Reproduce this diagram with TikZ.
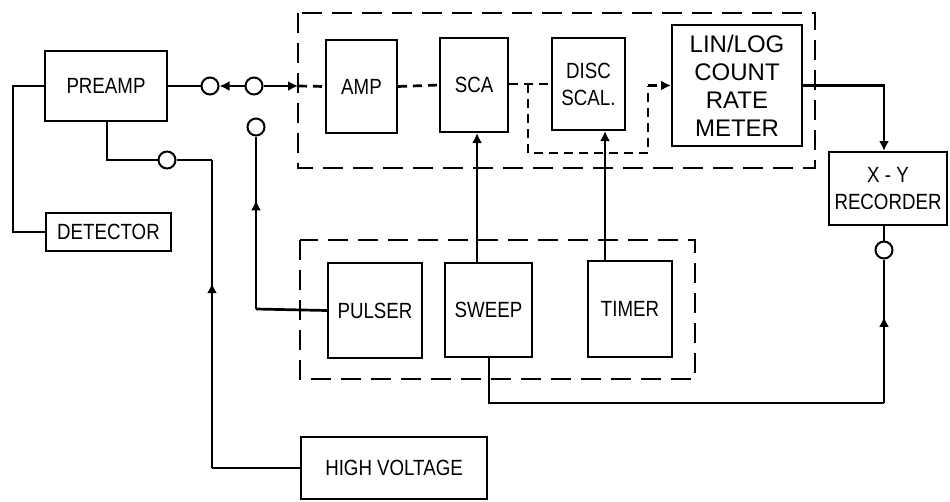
\documentclass[tikz,border=0pt]{standalone}
\usepackage{fontspec}
\setmainfont{Liberation Sans}
\newfontfamily\lbl[FakeStretch=0.85]{Liberation Sans}
\usetikzlibrary{arrows.meta,decorations.markings}
\begin{document}
\begin{tikzpicture}[x=1pt,y=-1pt,
  blk/.style={draw, line width=2pt, inner sep=0pt, align=center,
    font=\lbl\fontsize{22}{27}\selectfont},
  conn/.style={line width=2.7pt},
  arr/.style={conn, -{Latex[length=10pt,width=10pt]}},
  dsh/.style={line width=2.7pt, dash pattern=on 9pt off 6pt},
  dbox/.style={line width=2pt, dash pattern=on 20pt off 10pt},
  jack/.style={circle, draw, line width=2pt, fill=white, minimum size=17pt, inner sep=0pt},
  midarr/.style={conn, postaction={decorate}, decoration={markings,
    mark=at position #1 with {\arrow{Latex[length=10pt,width=10pt]}}}}]
\useasboundingbox (0,0) rectangle (950,501);

% dashed enclosures
\draw[dbox] (298,13) rectangle (815,168);
\draw[dbox] (300,240) rectangle (695,379);

% blocks
\node[blk, minimum width=122pt, minimum height=70pt] (preamp) at (106,86) {PREAMP};
\node[blk, minimum width=125pt, minimum height=38pt] (det) at (108.5,232) {DETECTOR};
\node[blk, minimum width=71pt, minimum height=93pt] (amp) at (361.5,86.5) {AMP};
\node[blk, minimum width=68pt, minimum height=94pt] (sca) at (474,85) {SCA};
\node[blk, minimum width=73pt, minimum height=92pt] (disc) at (588.5,84) {DISC\\SCAL.};
\node[blk, minimum width=130pt, minimum height=121pt, font=\fontsize{24}{28}\selectfont] (lin) at (737,85.5) {LIN/LOG\\COUNT\\RATE\\METER};
\node[blk, minimum width=118pt, minimum height=73pt] (xy) at (888,188.5) {X - Y\\RECORDER};
\node[blk, minimum width=94pt, minimum height=95pt] (pulser) at (375,310.5) {PULSER};
\node[blk, minimum width=87pt, minimum height=94pt] (sweep) at (488.5,310) {SWEEP};
\node[blk, minimum width=84pt, minimum height=96pt] (timer) at (630,309) {TIMER};
\node[blk, minimum width=186pt, minimum height=62pt] (hv) at (394,468) {HIGH VOLTAGE};

% jacks
\node[jack] (c1) at (210,86) {};
\node[jack] (c2) at (254,86) {};
\node[jack] (c3) at (167,160) {};
\node[jack] (cp) at (256,127) {};
\node[jack] (cxy) at (884,250) {};

% preamp - detector
\coordinate (l1) at (13,86);
\draw[conn] (preamp.west) -- (l1) |- (det.west);

% signal path
\draw[conn] (preamp.east) -- (c1);
\draw[arr] (c2) -- (c1);
\coordinate (in) at (298,86);
\draw[arr] (c2) -- (in);
\draw[dsh] (in) -- (amp.west);
\draw[dsh] (amp.east) -- (sca.west);
\draw[dsh] (sca.east |- disc.west) -- (disc.west);
\coordinate (b1) at (528,84);
\coordinate (b2) at (528,153);
\coordinate (b3) at (648,153);
\coordinate (b4) at (648,85.5);
\draw[dsh] (b1) -- (b2) -- (b3) -- (b4);
\draw[dsh, -{Latex[length=10pt,width=10pt]}] (b4) -- (lin.west);

% rate meter to recorder
\coordinate (o1) at (884,85.5);
\draw[arr] (lin.east) -- (o1) -- (o1 |- xy.north);

% recorder to sweep
\coordinate (r1) at (884,403);
\coordinate (r2) at (489,403);
\draw[conn] (xy.south -| cxy) -- (cxy);
\draw[midarr=0.6] (r1) -- (cxy);
\draw[conn] (r1) -- (r2) -- (r2 |- sweep.south);

% sweep and timer to SCA / DISC
\coordinate (sw) at (477,263);
\draw[arr] (sw) -- (sw |- sca.south);
\coordinate (tm) at (605,261);
\draw[arr] (tm) -- (tm |- disc.south);

% pulser
\coordinate (pk) at (256,309);
\draw[conn] (pulser.west) -- (pk);
\draw[midarr=0.63] (pk) -- (cp);

% preamp to high voltage
\coordinate (pb) at (107,160);
\coordinate (h1) at (212,160);
\coordinate (h2) at (212,468);
\draw[conn] (pb |- preamp.south) -- (pb) -- (c3);
\draw[conn] (c3) -- (h1);
\draw[midarr=0.6] (h2) -- (h1);
\draw[conn] (h2) -- (hv.west);
\end{tikzpicture}
\end{document}
